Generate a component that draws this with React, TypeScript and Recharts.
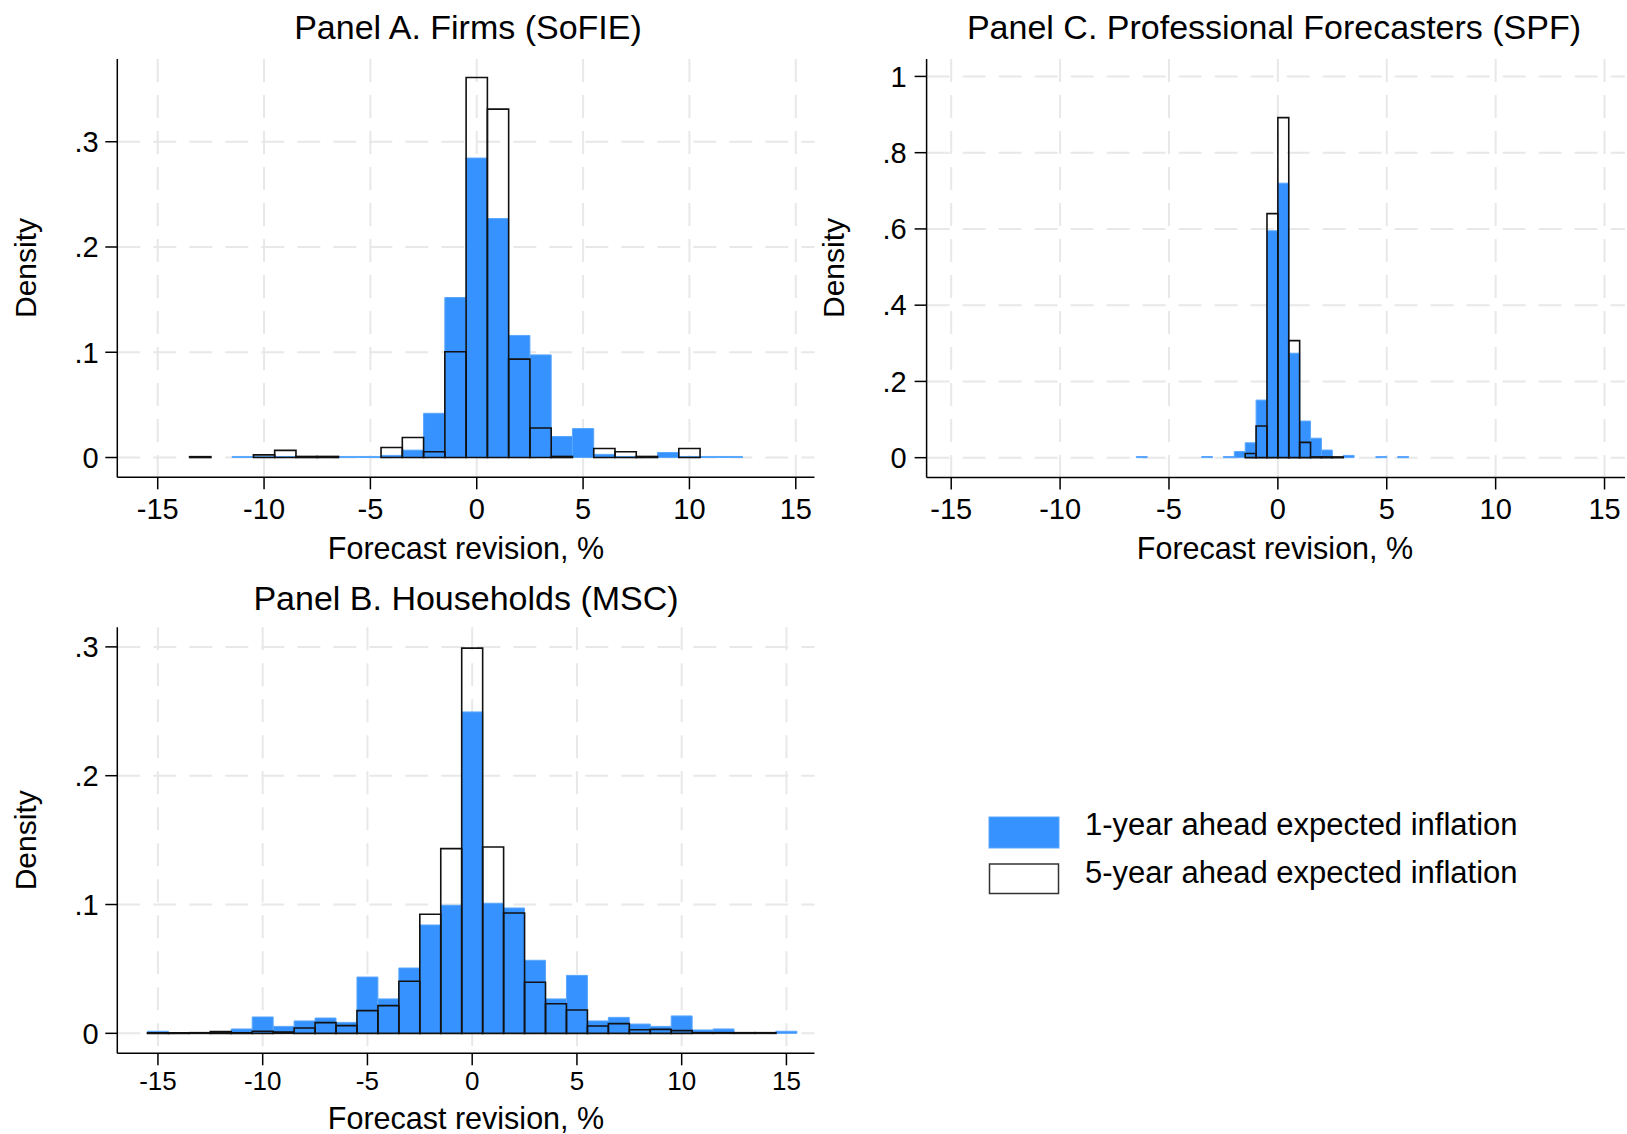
import React from 'react';
import { ComposedChart, XAxis, YAxis, CartesianGrid, ReferenceArea } from 'recharts';

const FONT = '"Liberation Sans", Arial, Helvetica, sans-serif';
const BLUE = '#3592ff';
const BLUE_EDGE = '#5aa7ff';
const GRID = '#e8e8e8';

// ---------- Panel A. Firms (SoFIE): bins of width 1 centred on integers ----------
const firmBins = [-13, -12, -11, -10, -9, -8, -7, -6, -5, -4, -3, -2, -1, 0, 1, 2, 3, 4, 5, 6, 7, 8, 9, 10, 11, 12];
const firm1y = [0, 0, 0.001, 0.001, 0.001, 0.0005, 0.001, 0.001, 0.001, 0.002, 0.007, 0.042, 0.152, 0.2845, 0.227, 0.116, 0.0975, 0.02, 0.0275, 0.003, 0.001, 0.0005, 0.0048, 0.001, 0.001, 0.001];
const firm5y = [0.0008, 0, 0, 0.0025, 0.0068, 0.001, 0.001, 0, 0, 0.0095, 0.019, 0.0055, 0.1005, 0.361, 0.331, 0.0935, 0.028, 0.001, 0, 0.0085, 0.0055, 0.001, 0, 0.0086, 0, 0];
const firmBinWidth = 1;

// ---------- Panel C. Professional Forecasters (SPF): bins of width 0.5 ----------
const spfBins = [-6.25, -5.75, -5.25, -4.75, -4.25, -3.75, -3.25, -2.75, -2.25, -1.75, -1.25, -0.75, -0.25, 0.25, 0.75, 1.25, 1.75, 2.25, 2.75, 3.25, 3.75, 4.25, 4.75, 5.25, 5.75];
const spf1y = [0.003, 0, 0, 0, 0, 0, 0.003, 0, 0.003, 0.016, 0.039, 0.151, 0.595, 0.72, 0.274, 0.096, 0.051, 0.02, 0, 0.006, 0, 0, 0.003, 0, 0.003];
const spf5y = [0, 0, 0, 0, 0, 0, 0, 0, 0, 0, 0.011, 0.083, 0.64, 0.892, 0.307, 0.04, 0.002, 0.002, 0.002, 0, 0, 0, 0, 0, 0];
const spfBinWidth = 0.5;

// ---------- Panel B. Households (MSC): bins of width 1 centred on integers ----------
const mscBins = [-15, -14, -13, -12, -11, -10, -9, -8, -7, -6, -5, -4, -3, -2, -1, 0, 1, 2, 3, 4, 5, 6, 7, 8, 9, 10, 11, 12, 13, 14, 15];
const msc1y = [0.0016, 0.0006, 0.0005, 0.0005, 0.0034, 0.0127, 0.0054, 0.0096, 0.0119, 0.0085, 0.0437, 0.0267, 0.0507, 0.0841, 0.0994, 0.2495, 0.101, 0.0973, 0.0567, 0.0267, 0.045, 0.0096, 0.0124, 0.0072, 0.0054, 0.0135, 0.0026, 0.0034, 0.0005, 0.0005, 0.0016];
const msc5y = [0.0005, 0.0005, 0.0005, 0.0013, 0.0005, 0.0016, 0.001, 0.0041, 0.0083, 0.006, 0.0176, 0.0215, 0.0404, 0.0924, 0.1434, 0.299, 0.1447, 0.0934, 0.0396, 0.023, 0.0181, 0.0057, 0.0075, 0.0028, 0.0031, 0.0021, 0.0005, 0.0005, 0.0005, 0.0005, 0];
const mscBinWidth = 1;

const xTicks = [-15, -10, -5, 0, 5, 10, 15];
const firmYTicks = [0, 0.1, 0.2, 0.3];
const spfYTicks = [0, 0.2, 0.4, 0.6, 0.8, 1];
const mscYTicks = [0, 0.1, 0.2, 0.3];

const titles = {
  a: 'Panel A. Firms (SoFIE)',
  b: 'Panel B. Households (MSC)',
  c: 'Panel C. Professional Forecasters (SPF)',
};
const xTitle = 'Forecast revision, %';
const yTitle = 'Density';
const legendLabels = ['1-year ahead expected inflation', '5-year ahead expected inflation'];

const fmtY = (v: number) => {
  if (v === 0) return '0';
  if (v >= 1) return String(v);
  return String(v).replace(/^0/, '');
};

type PanelProps = {
  bins: number[];
  one: number[];
  five: number[];
  binWidth: number;
  xDomain: [number, number];
  yDomain: [number, number];
  yTicks: number[];
  width: number;
  height: number;
  margin: { top: number; right: number; bottom: number; left: number };
  yAxisWidth: number;
  xAxisHeight: number;
  xTickSize: number;
  xTickMargin: number;
  yTickMargin: number;
};

const scaleOf = (axis: any) => {
  if (!axis) return null;
  const s = axis.scale;
  if (typeof s === 'function') return s;
  if (s && typeof s.map === 'function') return (v: number) => s.map(v);
  return null;
};

function HistPanel(p: PanelProps) {
  const rows = p.bins.map((b, i) => ({ x: b, one: p.one[i], five: p.five[i] }));
  const vGen = (props: any) => {
    const s = scaleOf(props && props.xAxis);
    return s ? xTicks.map((t) => s(t)) : [];
  };
  const hGen = (props: any) => {
    const s = scaleOf(props && props.yAxis);
    return s ? p.yTicks.map((t) => s(t)) : [];
  };
  return (
    <ComposedChart width={p.width} height={p.height} data={rows} margin={p.margin}>
      <CartesianGrid
        stroke={GRID}
        strokeWidth={2}
        strokeDasharray="23 13"
        verticalCoordinatesGenerator={vGen}
        horizontalCoordinatesGenerator={hGen}
      />
      <XAxis
        dataKey="x"
        type="number"
        domain={p.xDomain}
        ticks={xTicks}
        interval={0}
        allowDataOverflow
        height={p.xAxisHeight}
        tickSize={12}
        tickMargin={p.xTickMargin}
        axisLine={{ stroke: '#000', strokeWidth: 1.5 }}
        tickLine={{ stroke: '#000', strokeWidth: 1.5 }}
        tick={{ fontSize: p.xTickSize, fill: '#000', fontFamily: FONT }}
      />
      <YAxis
        type="number"
        domain={p.yDomain}
        ticks={p.yTicks}
        interval={0}
        allowDataOverflow
        width={p.yAxisWidth}
        tickSize={12}
        tickMargin={p.yTickMargin}
        tickFormatter={fmtY}
        axisLine={{ stroke: '#000', strokeWidth: 1.5 }}
        tickLine={{ stroke: '#000', strokeWidth: 1.5 }}
        tick={{ fontSize: 29, fill: '#000', fontFamily: FONT }}
      />
      {rows.map((r, i) =>
        r.one > 0 ? (
          <ReferenceArea
            key={'one' + i}
            x1={r.x - p.binWidth / 2}
            x2={r.x + p.binWidth / 2}
            y1={0}
            y2={r.one}
            fill={BLUE}
            fillOpacity={1}
            stroke={BLUE_EDGE}
            strokeWidth={1}
            ifOverflow="visible"
          />
        ) : null
      )}
      {rows.map((r, i) =>
        r.five > 0 ? (
          <ReferenceArea
            key={'five' + i}
            x1={r.x - p.binWidth / 2}
            x2={r.x + p.binWidth / 2}
            y1={0}
            y2={r.five}
            fill="none"
            fillOpacity={0}
            stroke="#111"
            strokeWidth={1.6}
            ifOverflow="visible"
          />
        ) : null
      )}
    </ComposedChart>
  );
}

export default function App() {
  return (
    <div style={{ position: 'absolute', left: 0, top: 0, width: 1627, height: 1134, background: '#fff', overflow: 'hidden' }}>
      <div style={{ position: 'absolute', left: 0, top: 0 }}>
        <HistPanel
          bins={firmBins}
          one={firm1y}
          five={firm5y}
          binWidth={firmBinWidth}
          xDomain={[-16.9, 15.88]}
          yDomain={[-0.0188, 0.3786]}
          yTicks={firmYTicks}
          width={830}
          height={600}
          margin={{ top: 59, right: 15.5, bottom: 0, left: 0 }}
          yAxisWidth={117.3}
          xAxisHeight={122.7}
          xTickSize={29}
          xTickMargin={9}
          yTickMargin={6.7}
        />
      </div>
      <div style={{ position: 'absolute', left: 780, top: 0 }}>
        <HistPanel
          bins={spfBins}
          one={spf1y}
          five={spf5y}
          binWidth={spfBinWidth}
          xDomain={[-16.13, 15.94]}
          yDomain={[-0.052, 1.0457]}
          yTicks={spfYTicks}
          width={847}
          height={600}
          margin={{ top: 59, right: 2, bottom: 0, left: 0 }}
          yAxisWidth={146.6}
          xAxisHeight={122.5}
          xTickSize={29}
          xTickMargin={9}
          yTickMargin={8}
        />
      </div>
      <div style={{ position: 'absolute', left: 0, top: 570 }}>
        <HistPanel
          bins={mscBins}
          one={msc1y}
          five={msc5y}
          binWidth={mscBinWidth}
          xDomain={[-16.94, 16.34]}
          yDomain={[-0.0155, 0.3152]}
          yTicks={mscYTicks}
          width={830}
          height={564}
          margin={{ top: 57.3, right: 15.5, bottom: 0, left: 0 }}
          yAxisWidth={117.3}
          xAxisHeight={80.7}
          xTickSize={26}
          xTickMargin={6.6}
          yTickMargin={6.7}
        />
      </div>
      <svg
        width={1627}
        height={1134}
        style={{ position: 'absolute', left: 0, top: 0, pointerEvents: 'none' }}
        fontFamily={FONT}
      >
        <text x={468} y={39.2} fontSize={34} textAnchor="middle" fill="#000">{titles.a}</text>
        <text x={1274} y={39.2} fontSize={34} textAnchor="middle" fill="#000">{titles.c}</text>
        <text x={466} y={609.8} fontSize={34} textAnchor="middle" fill="#000">{titles.b}</text>

        <text x={466} y={558.5} fontSize={30.5} textAnchor="middle" fill="#000">{xTitle}</text>
        <text x={1275} y={558.5} fontSize={30.5} textAnchor="middle" fill="#000">{xTitle}</text>
        <text x={466} y={1129} fontSize={30.5} textAnchor="middle" fill="#000">{xTitle}</text>

        <text x={36} y={268} fontSize={30} textAnchor="middle" fill="#000" transform="rotate(-90 36 268)">{yTitle}</text>
        <text x={844.3} y={268} fontSize={30} textAnchor="middle" fill="#000" transform="rotate(-90 844.3 268)">{yTitle}</text>
        <text x={36} y={840.3} fontSize={30} textAnchor="middle" fill="#000" transform="rotate(-90 36 840.3)">{yTitle}</text>

        <rect x={989} y={817} width={70} height={31} fill={BLUE} stroke={BLUE_EDGE} strokeWidth={1} />
        <rect x={989.5} y={864} width={69} height={29.5} fill="#fff" stroke="#333" strokeWidth={1.5} />
        <text x={1085} y={834.5} fontSize={31} fill="#000">{legendLabels[0]}</text>
        <text x={1085} y={883} fontSize={31} fill="#000">{legendLabels[1]}</text>
      </svg>
    </div>
  );
}
